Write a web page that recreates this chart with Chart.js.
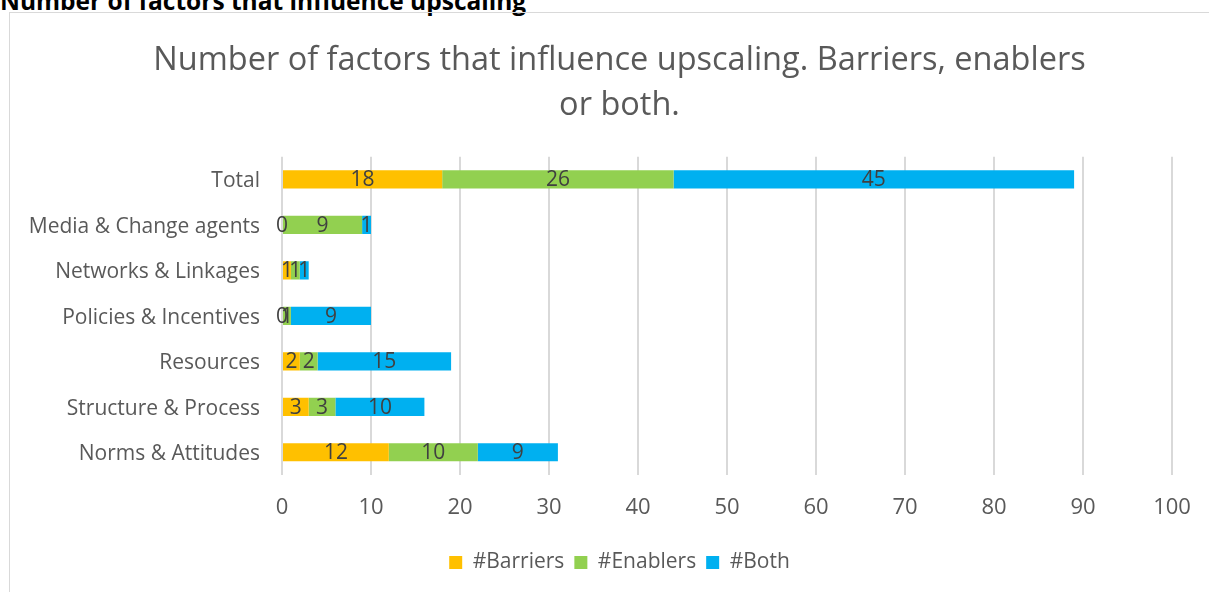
<!DOCTYPE html>
<html>
<head>
<meta charset="utf-8">
<script src="https://cdn.jsdelivr.net/npm/chart.js@4.4.1/dist/chart.umd.min.js"></script>
<style>
    html, body { margin: 0; padding: 0; background: #fff; overflow: hidden; }
    .heading {
        position: absolute; left: 0; top: -16px;
        font-family: 'Open Sans', sans-serif; font-weight: bold; font-size: 24.5px; color: #000;
        white-space: nowrap;
    }
    .frame {
        position: absolute; left: 9px; top: 12px; width: 1230px; height: 620px;
        border: 1px solid #d9d9d9; box-sizing: border-box;
    }
    .box { position: absolute; left: 10px; top: 13px; width: 1219px; height: 579px; }
</style>
</head>
<body>
<div class="heading">Number of factors that influence upscaling</div>
<div class="frame"></div>
<div class="box"><canvas id="chart"></canvas></div>
<script>
const categories = ['Total', 'Media & Change agents', 'Networks & Linkages', 'Policies & Incentives', 'Resources', 'Structure & Process', 'Norms & Attitudes'];
const barriers = [18, 0, 1, 0, 2, 3, 12];
const enablers = [26, 9, 1, 1, 2, 3, 10];
const both = [45, 1, 1, 9, 15, 10, 9];
const xTicks = [0, 10, 20, 30, 40, 50, 60, 70, 80, 90, 100];

const FONT = "'Open Sans', sans-serif";
const TEXT = '#595959';

// draws the value in the middle of every bar segment
const barLabels = {
    id: 'barLabels',
    afterDatasetsDraw(chart) {
        const ctx = chart.ctx;
        ctx.save();
        ctx.font = '21px ' + FONT;
        ctx.fillStyle = '#404040';
        ctx.textAlign = 'center';
        ctx.textBaseline = 'middle';
        chart.data.datasets.forEach((ds, i) => {
            chart.getDatasetMeta(i).data.forEach((bar, j) => {
                const x = (bar.x + bar.base) / 2;
                ctx.fillText(String(ds.data[j]), x, bar.y + 1);
            });
        });
        ctx.restore();
    }
};

new Chart(document.getElementById('chart'), {
    type: 'bar',
    data: {
        labels: categories,
        datasets: [
            { label: '#Barriers', data: barriers, backgroundColor: '#FFC000' },
            { label: '#Enablers', data: enablers, backgroundColor: '#92D050' },
            { label: '#Both', data: both, backgroundColor: '#00B0F0' }
        ]
    },
    options: {
        indexAxis: 'y',
        responsive: true,
        maintainAspectRatio: false,
        animation: false,
        categoryPercentage: 1,
        barPercentage: 0.4,
        layout: { padding: { top: 25, right: 0, bottom: 9, left: 0 } },
        scales: {
            x: {
                stacked: true,
                min: 0, max: 100,
                afterBuildTicks: s => { s.ticks = xTicks.map(v => ({ value: v })); },
                afterFit: s => { s.height = 67; },
                grid: { color: '#d9d9d9', lineWidth: 2, drawTicks: false },
                border: { display: false },
                ticks: { color: TEXT, font: { family: FONT, size: 22 }, padding: 20 }
            },
            y: {
                stacked: true,
                afterFit: s => { s.width = 272; },
                grid: { display: false, drawTicks: false },
                border: { display: false },
                ticks: { color: TEXT, font: { family: FONT, size: 21 }, padding: 22, labelOffset: 2 }
            },
            // empty axis on the right, only keeps the margin so titles stay centred
            yRight: {
                position: 'right',
                afterFit: s => { s.width = 57; },
                grid: { display: false, drawTicks: false },
                border: { display: false },
                ticks: { display: false }
            }
        },
        plugins: {
            title: {
                display: true,
                text: ['Number of factors that influence upscaling. Barriers, enablers', 'or both.'],
                color: TEXT,
                font: { family: FONT, size: 32.5, weight: 'normal', lineHeight: 1.38 },
                padding: { top: 0, bottom: 29 }
            },
            legend: {
                position: 'bottom',
                labels: {
                    color: TEXT, font: { family: FONT, size: 21 },
                    boxWidth: 13, boxHeight: 13, padding: 10
                }
            },
            tooltip: { enabled: false }
        }
    },
    plugins: [barLabels]
});
</script>
</body>
</html>
